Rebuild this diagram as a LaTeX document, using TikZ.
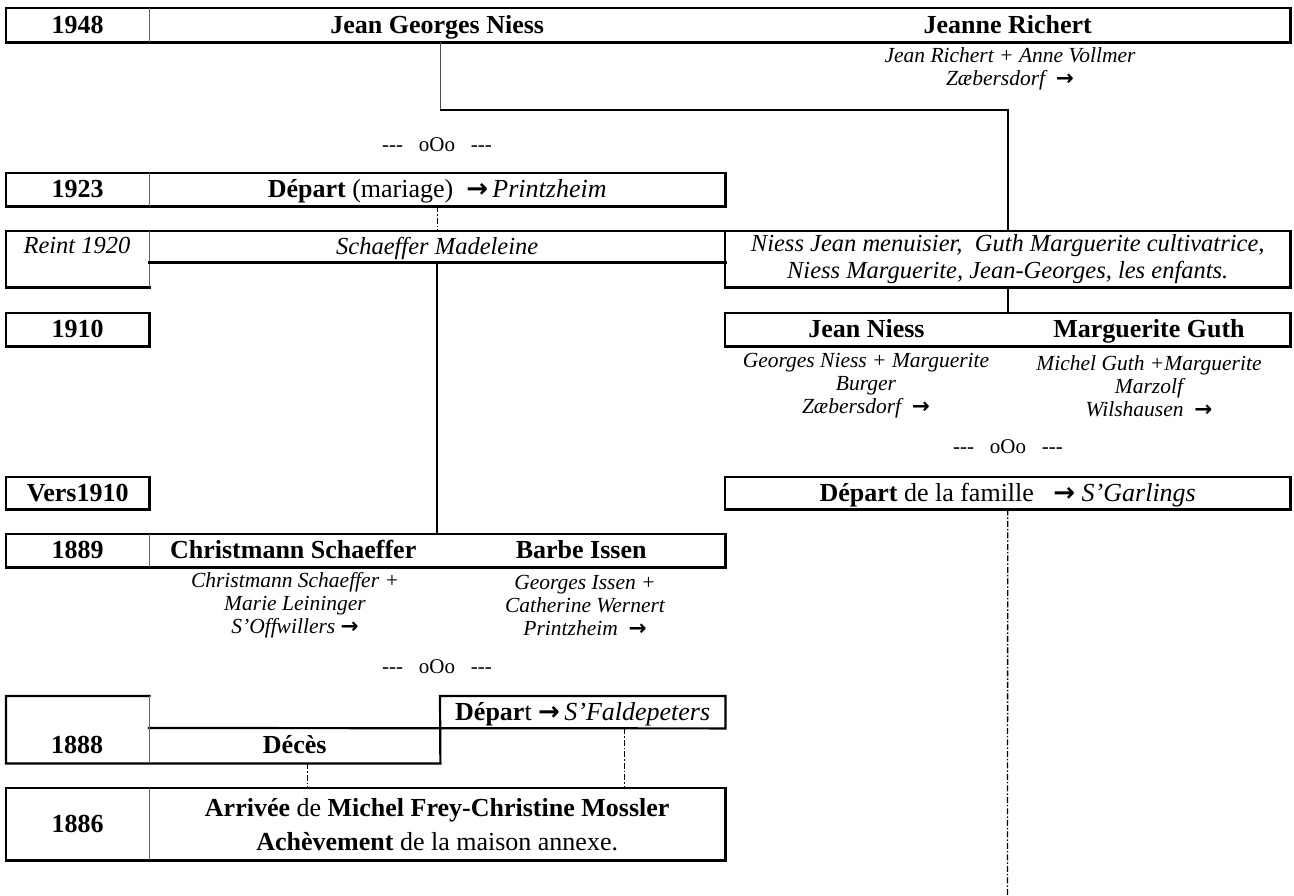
\documentclass[tikz,border=0pt]{standalone}
\usepackage{fontspec}
\setmainfont{Liberation Serif}
\newfontfamily\arrowfont{DejaVu Sans}
\newcommand{\rarr}{{\arrowfont\bfseries →}}
\begin{document}
\begin{tikzpicture}[x=1pt,y=-1pt,
  cell/.style={rectangle,inner sep=0pt,anchor=north west,text height=21pt,text depth=5pt},
  cellm/.style={rectangle,inner sep=0pt,anchor=north west,align=center},
  hd/.style={font=\fontsize{26}{30}\selectfont\bfseries},
  rg/.style={font=\fontsize{26}{34}\selectfont},
  itb/.style={font=\fontsize{24.5}{27.5}\selectfont\itshape},
  sub/.style={font=\fontsize{21.5}{23}\selectfont\itshape,align=center,inner sep=0pt},
  oo/.style={font=\fontsize{21}{24}\selectfont,inner sep=0pt},
  bd/.style={line width=2.2pt,black,line cap=rect,line join=miter},
  dv/.style={line width=1pt,black!60},
  link/.style={line width=1.6pt,black},
  thinlink/.style={line width=1pt,black!70},
  dd/.style={line width=1.3pt,black,dash pattern=on 6pt off 2pt on 1.5pt off 2pt}
]
\useasboundingbox (0,0) rectangle (1294,895);

% ---------- 1948 ----------
\node[cell,hd,minimum width=143pt,minimum height=34pt] (y48) at (6,8) {1948};
\node[cell,hd,minimum width=576pt,minimum height=34pt] (jgn) at (149,8) {Jean Georges Niess};
\node[cell,hd,minimum width=565pt,minimum height=34pt] (jr) at (725,8) {Jeanne Richert};
\draw[bd] (y48.north west) rectangle (jr.south east);
\draw[dv] (y48.north east) -- (y48.south east);
\node[sub] (jrs) at (1010,69) {Jean Richert + Anne Vollmer\\Zæbersdorf\ \ \rarr};

\node[oo] (oo1) at (437,145) {-{}-{}-\ \ \ oOo\ \ \ -{}-{}-};

% ---------- 1923 ----------
\node[cell,hd,minimum width=143pt,minimum height=33pt] (y23) at (6,173) {1923};
\node[cell,rg,minimum width=576pt,minimum height=33pt] (dep23) at (149,173)
  {\textbf{Départ} (mariage)\ \ \rarr\,\textit{Printzheim}};
\draw[bd] (y23.north west) rectangle (dep23.south east);
\draw[dv] (y23.north east) -- (y23.south east);

% ---------- Reint 1920 ----------
\node[cellm,minimum width=143pt,minimum height=56pt] (reint) at (6,231) {};
\node[itb] (treint) at (77,245) {Reint 1920};
\node[cell,itb,minimum width=576pt,minimum height=31pt] (schaef) at (149,231) {Schaeffer Madeleine};
\node[cellm,itb,minimum width=565pt,minimum height=56pt] (nfam) at (725,231)
  {Niess Jean menuisier,\ \ Guth Marguerite cultivatrice,\\Niess Marguerite, Jean-Georges, les enfants.};
\draw[bd] (reint.south west) -- (reint.north west) -- (nfam.north east) -- (nfam.south east) -- (nfam.south west) -- (nfam.north west);
\draw[bd] (reint.south west) -- (reint.south east);
\draw[dv] (reint.north east) -- (reint.south east);
\draw[bd] (schaef.south west) -- (schaef.south east);

% ---------- 1910 ----------
\node[cell,hd,minimum width=143pt,minimum height=33pt] (y10) at (6,313) {1910};
\draw[bd] (y10.north west) rectangle (y10.south east);
\node[cell,hd,minimum width=282.5pt,minimum height=33pt] (jn) at (725,313) {Jean Niess};
\node[cell,hd,minimum width=282.5pt,minimum height=33pt] (mg) at (1007.5,313) {Marguerite Guth};
\draw[bd] (jn.north west) rectangle (mg.south east);
\node[sub] (jns) at (866,386) {Georges Niess + Marguerite\\Burger\\Zæbersdorf\ \ \rarr};
\node[sub] (mgs) at (1149,386) {Michel Guth +Marguerite\\Marzolf\\Wilshausen\ \ \rarr};

\node[oo] (oo2) at (1008,447) {-{}-{}-\ \ \ oOo\ \ \ -{}-{}-};

% ---------- Vers1910 ----------
\node[cell,hd,minimum width=143pt,minimum height=32pt] (yv10) at (6,477) {Vers1910};
\draw[bd] (yv10.north west) rectangle (yv10.south east);
\node[cell,rg,minimum width=565pt,minimum height=32pt] (depfam) at (725,477)
  {\textbf{Départ} de la famille\ \ \ \rarr\ \textit{S’Garlings}};
\draw[bd] (depfam.north west) rectangle (depfam.south east);

% ---------- 1889 ----------
\node[cell,hd,minimum width=143pt,minimum height=33pt] (y89) at (6,534) {1889};
\node[cell,hd,minimum width=288pt,minimum height=33pt] (cs) at (149,534) {Christmann Schaeffer};
\node[cell,hd,minimum width=288pt,minimum height=33pt] (bi) at (437,534) {Barbe Issen};
\draw[bd] (y89.north west) rectangle (bi.south east);
\draw[dv] (y89.north east) -- (y89.south east);
\node[sub] (css) at (295,605) {Christmann Schaeffer +\\Marie Leininger\\S’Offwillers \rarr};
\node[sub] (bis) at (585,605) {Georges Issen +\\Catherine Wernert\\Printzheim\ \ \rarr};

\node[oo] (oo3) at (437,667) {-{}-{}-\ \ \ oOo\ \ \ -{}-{}-};

% ---------- 1888 ----------
\node[cellm,minimum width=143pt,minimum height=67pt] (y88) at (6,696) {};
\node[hd] (t88) at (77,745) {1888};
\node[cell,rg,minimum width=285pt,minimum height=32pt] (depS) at (440,696)
  {\textbf{Dépar}t \rarr\,\textit{S’Faldepeters}};
\node[cell,hd,minimum width=291pt,minimum height=35pt] (deces) at (149,728) {Décès};
\draw[bd] (y88.north east) -- (y88.north west) -- (y88.south west) -- (deces.south east)
  -- (depS.north west) -- (depS.north east) -- (depS.south east) -- (deces.north west);
\draw[dv] (y88.north east) -- (y88.south east);

% ---------- 1886 ----------
\node[cell,hd,minimum width=143pt,minimum height=72pt] (y86) at (6,788) {1886};
\node[cellm,rg,minimum width=576pt,minimum height=72pt] (arr) at (149,788)
  {\textbf{Arrivée} de \textbf{Michel Frey-Christine Mossler}\\\textbf{Achèvement} de la maison annexe.};
\draw[bd] (y86.north west) rectangle (arr.south east);
\draw[dv] (y86.north east) -- (y86.south east);

% ---------- connectors ----------
\coordinate (k1) at (440,110);
\coordinate (gend) at (1007.5,895);
\draw[thinlink] (jgn.south -| k1) -- (k1);
\draw[link] (k1) -| (nfam.north);
\draw[link] (schaef.south) -- (schaef.south |- y89.north);
\draw[link] (nfam.south) -- (nfam.south |- jn.north);
\draw[dd] (dep23.south) -- (dep23.south |- schaef.north);
\draw[dd] (depfam.south) -- (gend);
\draw[dd] ([xshift=13pt]deces.south) -- ([xshift=13pt]deces.south |- arr.north);
\draw[dd] ([xshift=42pt]depS.south) -- ([xshift=42pt]depS.south |- arr.north);
\end{tikzpicture}
\end{document}
